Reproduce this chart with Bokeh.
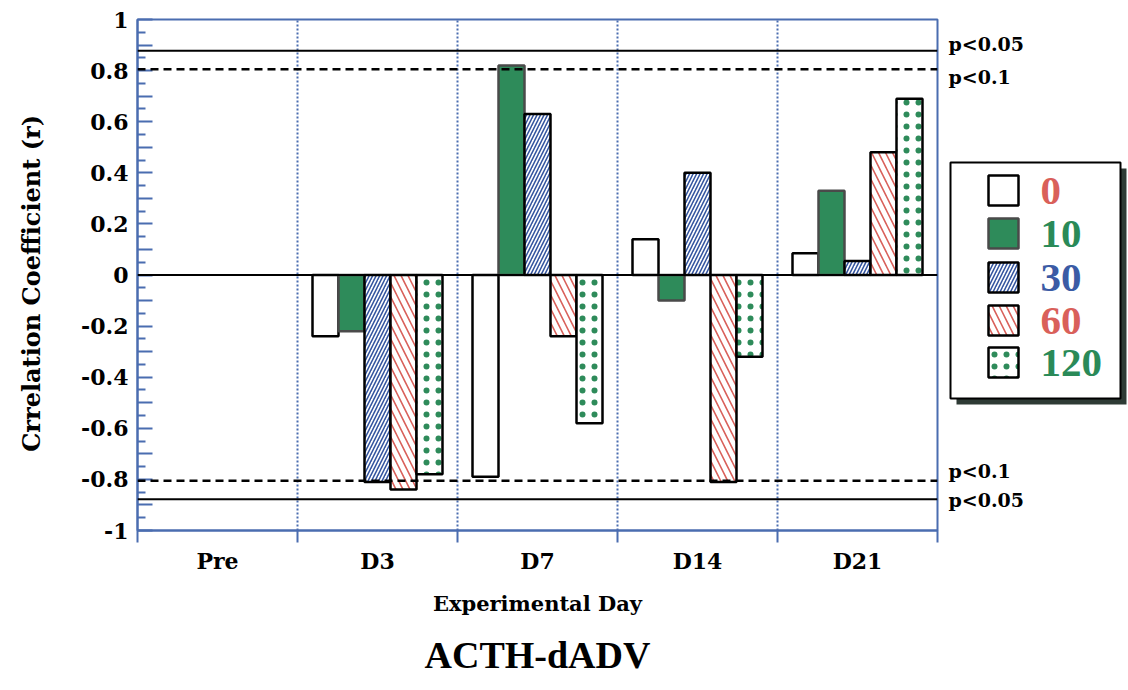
import numpy as np
from bokeh.plotting import figure
from bokeh.models import (Range1d, FixedTicker, CustomJSTickFormatter, Span, Title,
                          ColumnDataSource)
from bokeh.layouts import row
from bokeh.transform import dodge
from bokeh.core.properties import value
from bokeh.embed import file_html
from bokeh.resources import INLINE

NaN = float("nan")

# ---------------- data ----------------
days = ["Pre", "D3", "D7", "D14", "D21"]
series_names = ["0", "10", "30", "60", "120"]
r_0 = [NaN, -0.24, -0.79, 0.14, 0.085]
r_10 = [NaN, -0.22, 0.82, -0.10, 0.33]
r_30 = [NaN, -0.81, 0.63, 0.40, 0.055]
r_60 = [NaN, -0.84, -0.24, -0.81, 0.48]
r_120 = [NaN, -0.78, -0.58, -0.32, 0.69]
crit_p05 = 0.878
crit_p10 = 0.805
y_major_ticks = [round(-1 + 0.1 * i, 2) for i in range(21)]
y_minor_ticks = [round(-0.95 + 0.1 * i, 2) for i in range(20)]

# ---------------- styles ----------------
BLUE = "#4a6db0"
GREEN = "#2e8b5a"
RED_T = "#d9605a"
GREEN_T = "#2a8a58"
BLUE_T = "#3b5ba5"
AX_FONT = "DejaVu Serif"
styles = [
    dict(fill_color="white", line_color="black", hatch_pattern=None, hatch_color=None, hatch_scale=6, hatch_weight=1),
    dict(fill_color=GREEN, line_color="#4a4a4a", hatch_pattern=None, hatch_color=None, hatch_scale=6, hatch_weight=1),
    dict(fill_color="white", line_color="black", hatch_pattern="/", hatch_color="#3556a0", hatch_scale=7, hatch_weight=1.6),
    dict(fill_color="white", line_color="black", hatch_pattern="\\", hatch_color="#d9605a", hatch_scale=14, hatch_weight=1.6),
    dict(fill_color="white", line_color="black", hatch_pattern=".", hatch_color="#2e8b5a", hatch_scale=12, hatch_weight=1),
]
label_colors = [RED_T, GREEN_T, BLUE_T, RED_T, GREEN_T]

series = [r_0, r_10, r_30, r_60, r_120]
x_center = [i + 0.5 for i in range(len(days))]
data = dict(x=x_center)
for name, vals in zip(series_names, series):
    data["s" + name] = np.array(vals, dtype=float)
source = ColumnDataSource(data)

TOP, BOTTOM = 19, 160
H = 690

p = figure(width=940, height=H, output_backend="svg", toolbar_location=None,
           x_range=Range1d(0, len(days)), y_range=Range1d(-1, 1),
           min_border_left=137, min_border_right=3, min_border_top=TOP,
           min_border_bottom=BOTTOM)
p.background_fill_color = "white"
p.border_fill_color = "white"
p.outline_line_color = BLUE
p.outline_line_width = 2

bw = 0.1625
for k, name in enumerate(series_names):
    st = styles[k]
    kw = dict(x=dodge("x", (k - 2) * bw), top="s" + name, bottom=0, width=bw,
              source=source, fill_color=st["fill_color"], line_color=st["line_color"],
              line_width=2.5)
    if st["hatch_pattern"]:
        kw.update(hatch_pattern=st["hatch_pattern"], hatch_color=st["hatch_color"],
                  hatch_scale=st["hatch_scale"], hatch_weight=st["hatch_weight"])
    p.vbar(**kw)

# reference lines
p.add_layout(Span(location=0, dimension="width", line_color="black", line_width=2))
for sgn in (1, -1):
    p.add_layout(Span(location=sgn * crit_p05, dimension="width", line_color="black", line_width=2))
    p.add_layout(Span(location=sgn * crit_p10, dimension="width", line_color="black",
                      line_width=2.5, line_dash="8 5"))

# grid
p.ygrid.visible = False
p.xgrid.ticker = FixedTicker(ticks=list(range(1, len(days))))
p.xgrid.grid_line_color = BLUE
p.xgrid.grid_line_width = 2
p.xgrid.grid_line_dash = "2 2"

# x axis
xa = p.xaxis[0]
xa.ticker = FixedTicker(ticks=x_center, minor_ticks=list(range(0, len(days) + 1)))
xa.formatter = CustomJSTickFormatter(args=dict(labels=days),
                                     code="return labels[Math.floor(tick)];")
xa.axis_line_color = BLUE
xa.axis_line_width = 2
xa.major_tick_in = 0
xa.major_tick_out = 0
xa.minor_tick_in = 0
xa.minor_tick_out = 12
xa.minor_tick_line_color = BLUE
xa.minor_tick_line_width = 2
xa.major_label_text_font = AX_FONT
xa.major_label_text_font_style = "bold"
xa.major_label_text_font_size = "22px"
xa.major_label_text_color = "black"
xa.major_label_standoff = 5
xa.axis_label = "Experimental Day"
xa.axis_label_text_font = AX_FONT
xa.axis_label_text_font_style = "bold"
xa.axis_label_text_font_size = "21px"
xa.axis_label_text_color = "black"
xa.axis_label_standoff = 14

# y axis
ya = p.yaxis[0]
ya.ticker = FixedTicker(ticks=y_major_ticks, minor_ticks=y_minor_ticks)
ya.formatter = CustomJSTickFormatter(code="""
const v = Math.round(tick * 10);
if (v % 2 != 0) return '';
const r = v / 10;
return (r === 0 ? 0 : r).toString();
""")
ya.axis_line_color = BLUE
ya.axis_line_width = 2
ya.major_tick_in = 15
ya.major_tick_out = 0
ya.minor_tick_in = 8
ya.minor_tick_out = 0
ya.major_tick_line_color = BLUE
ya.minor_tick_line_color = BLUE
ya.major_tick_line_width = 2
ya.minor_tick_line_width = 2
ya.major_label_text_font = AX_FONT
ya.major_label_text_font_style = "bold"
ya.major_label_text_font_size = "22px"
ya.major_label_text_color = "black"
ya.major_label_standoff = 9
ya.axis_label = "Crrelation  Coefficient  (r)"
ya.axis_label_text_font = AX_FONT
ya.axis_label_text_font_style = "bold"
ya.axis_label_text_font_size = "24px"
ya.axis_label_text_color = "black"
ya.axis_label_standoff = 32

# chart title below the axis
p.add_layout(Title(text="ACTH-dADV", align="center", text_font="Liberation Serif",
                   text_font_style="bold", text_font_size="38px", text_color="black",
                   standoff=27), "below")

scale = (H - TOP - BOTTOM) / 2.0
zero_px = TOP + scale


def py(pix):
    return (zero_px - pix) / scale


# ---------------- side panel: significance labels + legend ----------------
q = figure(width=1128 - 940, height=H, output_backend="svg", toolbar_location=None,
           x_range=Range1d(940, 1128), y_range=Range1d(-1, 1),
           x_axis_location=None, y_axis_location=None,
           min_border_left=0, min_border_right=0, min_border_top=TOP,
           min_border_bottom=BOTTOM)
q.outline_line_color = None
q.grid.visible = False
q.background_fill_color = "white"
q.border_fill_color = "white"

sig_src = ColumnDataSource(dict(
    x=[948, 948, 948, 948],
    y=[crit_p05, crit_p10, -crit_p10, -crit_p05],
    text=["p<0.05", "p<0.1", "p<0.1", "p<0.05"],
    yo=[-7, 8, -10, 1],
))
q.text(x="x", y="y", text="text", y_offset="yo", source=sig_src,
       text_baseline="middle", text_font=value(AX_FONT), text_font_style="bold",
       text_font_size="19px", text_color="black")

# legend box with shadow
box_l, box_r, box_t, box_b = 950, 1120, py(162), py(398)
sh = 6
q.quad(left=[box_l + sh], right=[box_r + sh], top=[box_t - sh / scale],
       bottom=[box_b - sh / scale], fill_color="#2e3b35", line_color=None)
q.quad(left=[box_l], right=[box_r], top=[box_t], bottom=[box_b],
       fill_color="white", line_color="black", line_width=2)

row_px = [190, 233, 277, 320, 362]
for k, name in enumerate(series_names):
    st = styles[k]
    kw = dict(x=[1003], y=[py(row_px[k])], width=30, height=30 / scale,
              fill_color=st["fill_color"], line_color=st["line_color"], line_width=2.5)
    if st["hatch_pattern"]:
        kw.update(hatch_pattern=st["hatch_pattern"], hatch_color=st["hatch_color"],
                  hatch_scale=st["hatch_scale"], hatch_weight=st["hatch_weight"])
    q.rect(**kw)
    q.text(x=[1040], y=[py(row_px[k])], text=[name], text_baseline="middle",
           text_font=value("Liberation Serif"), text_font_style="bold",
           text_font_size="41px", text_color=label_colors[k])

layout = row(p, q, spacing=0)
open("out.html", "w").write(file_html(layout, INLINE))
